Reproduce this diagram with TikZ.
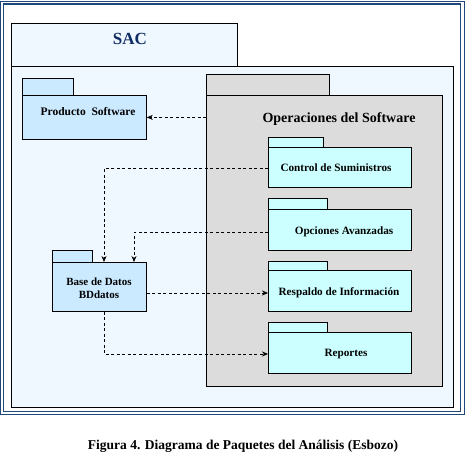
\documentclass[tikz,border=0pt]{standalone}
\usepackage{fontspec}
\setmainfont{Liberation Serif}
\usetikzlibrary{arrows.meta}
\definecolor{framec}{RGB}{31,73,125}
\definecolor{sacfill}{RGB}{240,248,255}
\definecolor{sactext}{RGB}{15,45,100}
\definecolor{bluepkg}{RGB}{204,234,255}
\definecolor{cyanpkg}{RGB}{204,255,255}
\definecolor{graypkg}{RGB}{220,220,220}
\begin{document}
\begin{tikzpicture}[x=1pt,y=-1pt,
  pkg/.style={draw=black, line width=0.8pt, rectangle, inner sep=0pt, anchor=north west},
  lbl/.style={font=\bfseries\fontsize{11.2}{13}\selectfont, align=center, inner sep=0pt},
  dep/.style={draw=black, line width=0.6pt, dash pattern=on 3pt off 2.5pt, -{Stealth[length=6pt,width=5pt]}}]
\useasboundingbox (0,0) rectangle (466,455);
\fill[white] (0,0) rectangle (466,455);
% frame
\draw[framec, line width=1.3pt] (0.8,1.2) rectangle (464.4,414.5);
\draw[framec, line width=1.3pt] (3.4,4) rectangle (460.8,411.8);
% SAC package
\node[pkg, fill=sacfill, minimum width=226, minimum height=43] (sactab) at (11,23) {};
\node[pkg, fill=sacfill, minimum width=442, minimum height=341] (sac) at (11,66) {};
\node[font=\bfseries\fontsize{17}{20}\selectfont, text=sactext] (sactitle) at (130,39) {SAC};
% Producto Software
\node[pkg, fill=bluepkg, minimum width=51, minimum height=17] (prodtab) at (22,78) {};
\node[pkg, fill=bluepkg, minimum width=124, minimum height=44] (prod) at (22,95) {};
\node[lbl, font=\bfseries\fontsize{11.5}{13}\selectfont] (prodtxt) at (88,112) {Producto\ \ Software};
% Operaciones del Software
\node[pkg, fill=graypkg, minimum width=123, minimum height=21] (opstab) at (206,74) {};
\node[pkg, fill=graypkg, minimum width=236, minimum height=291] (ops) at (206,95) {};
\node[font=\bfseries\fontsize{14}{16}\selectfont, inner sep=0pt] (opstxt) at (339,119) {Operaciones del Software};
% inner packages
\node[pkg, fill=cyanpkg, minimum width=55, minimum height=10] (ctrltab) at (268,137) {};
\node[pkg, fill=cyanpkg, minimum width=143, minimum height=40] (ctrl) at (268,147) {};
\node[lbl] (ctrltxt) at (336,168) {Control de Suministros};
\node[pkg, fill=cyanpkg, minimum width=59, minimum height=11] (opctab) at (268,198) {};
\node[pkg, fill=cyanpkg, minimum width=143, minimum height=41] (opc) at (268,209) {};
\node[lbl] (opctxt) at (344,232) {Opciones Avanzadas};
\node[pkg, fill=cyanpkg, minimum width=59, minimum height=9] (resptab) at (268,261) {};
\node[pkg, fill=cyanpkg, minimum width=143, minimum height=41] (resp) at (268,270) {};
\node[lbl] (resptxt) at (339,293) {Respaldo de Información};
\node[pkg, fill=cyanpkg, minimum width=59, minimum height=10] (reptab) at (268,322) {};
\node[pkg, fill=cyanpkg, minimum width=143, minimum height=41] (rep) at (268,332) {};
\node[lbl] (reptxt) at (346,354) {Reportes};
% Base de Datos
\node[pkg, fill=bluepkg, minimum width=40, minimum height=12] (basetab) at (52,250) {};
\node[pkg, fill=bluepkg, minimum width=94, minimum height=49] (base) at (52,262) {};
\node[lbl, font=\bfseries\fontsize{11}{13}\selectfont] (basetxt) at (99,288.5) {Base de Datos\\BDdatos};
% connectors
\coordinate (bd1) at (104,262);
\coordinate (bd2) at (134,262);
\draw[dep] (ops.west |- prod.east) -- (prod.east);
\draw[dep] (ctrl.west |- ctrltxt) -| (bd1);
\draw[dep] (opc.west |- opctxt) -| (bd2);
\draw[dep] (base.east |- resptxt) -- (resp.west |- resptxt);
\draw[dep] (bd1 |- base.south) |- (rep.west |- reptxt);
% caption
\node[font=\bfseries\fontsize{13.5}{16}\selectfont, inner sep=0pt] (cap) at (243,446) {Figura 4. Diagrama de Paquetes del Análisis (Esbozo)};
\end{tikzpicture}
\end{document}
